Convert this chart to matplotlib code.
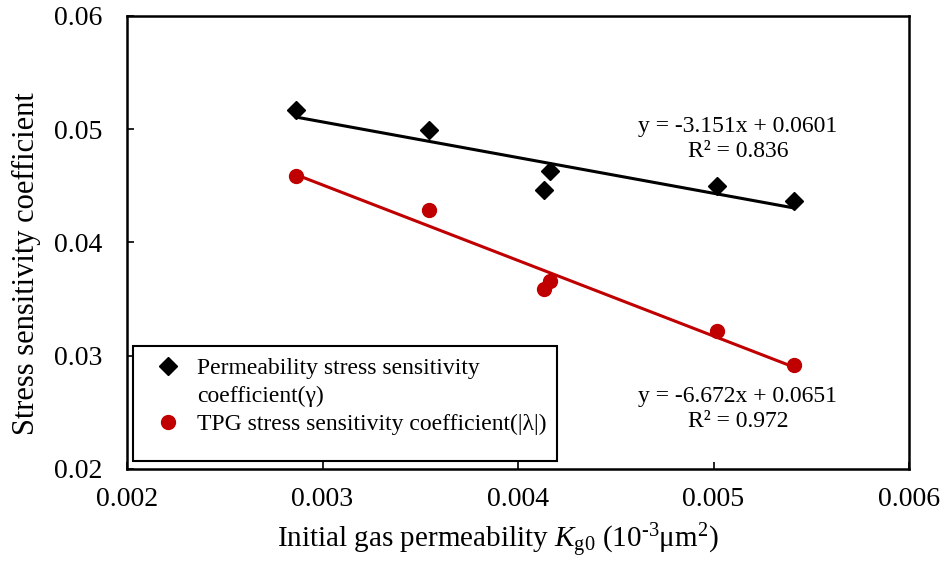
import matplotlib.pyplot as plt
from matplotlib.patches import Rectangle
from matplotlib.lines import Line2D
import numpy as np

plt.rcParams['font.family'] = 'Liberation Serif'
plt.rcParams['mathtext.fontset'] = 'custom'
plt.rcParams['mathtext.rm'] = 'Liberation Serif'
plt.rcParams['mathtext.it'] = 'Liberation Serif:italic'

# initial gas permeability (10^-3 um^2)
kg0 = [0.002864, 0.003545, 0.004164, 0.004135, 0.005016, 0.005413]
# permeability stress sensitivity coefficient (gamma)
gamma = [0.0517, 0.04993, 0.04634, 0.04464, 0.04502, 0.04366]
# TPG stress sensitivity coefficient (|lambda|)
lam = [0.04587, 0.04287, 0.0366, 0.03587, 0.03219, 0.02918]

# linear trendlines: slope, intercept, R^2
fit_gamma = (-3.151, 0.0601, 0.836)
fit_lam = (-6.672, 0.0651, 0.972)

red = '#C00000'

fig = plt.figure(figsize=(9.47, 5.63), dpi=100)
ax = fig.add_axes([0.1341, 0.167, 0.8258, 0.8046])

xs = np.array([min(kg0), max(kg0)])
ax.plot(xs, fit_gamma[0] * xs + fit_gamma[1], color='black', lw=2.2, zorder=2)
ax.plot(xs, fit_lam[0] * xs + fit_lam[1], color=red, lw=2.2, zorder=2)

h1, = ax.plot(kg0, gamma, 'D', color='black', ms=9, ls='none', zorder=3)
h2, = ax.plot(kg0, lam, 'o', color=red, ms=10, ls='none', zorder=3)

ax.text(0.005125, 0.04914,
        f'y = {fit_gamma[0]:.3f}x + {fit_gamma[1]:.4f}\nR² = {fit_gamma[2]:.3f}',
        ha='center', va='center', fontsize=17, linespacing=1.25)
ax.text(0.005125, 0.0253,
        f'y = {fit_lam[0]:.3f}x + {fit_lam[1]:.4f}\nR² = {fit_lam[2]:.3f}',
        ha='center', va='center', fontsize=17, linespacing=1.25)

ax.set_xlim(0.002, 0.006)
ax.set_ylim(0.02, 0.06)
ax.set_xticks([0.002, 0.003, 0.004, 0.005, 0.006])
ax.set_yticks([0.02, 0.03, 0.04, 0.05, 0.06])
ax.set_xticklabels(['0.002', '0.003', '0.004', '0.005', '0.006'])
ax.set_yticklabels(['0.02', '0.03', '0.04', '0.05', '0.06'])
ax.tick_params(direction='in', length=5, width=1.2, labelsize=20)
ax.tick_params(axis='x', pad=13)
ax.tick_params(axis='y', pad=18)
for s in ax.spines.values():
    s.set_linewidth(1.8)

ax.set_xlabel(r'Initial gas permeability $K_{\rm g0}$ (10$^{\text{-3}}$μm$^{2}$)',
              fontsize=21)
ax.xaxis.set_label_coords(0.474, -0.117)
ax.set_ylabel('Stress sensitivity coefficient', fontsize=22)
ax.yaxis.set_label_coords(-0.11, 0.4525)

# legend box placed in figure pixels
W, H = 947, 563
ax.add_patch(Rectangle((133 / W, (H - 461) / H), 424 / W, 115 / H,
                       transform=fig.transFigure, clip_on=False,
                       facecolor='white', edgecolor='black', lw=1.5, zorder=5))
blank = Line2D([], [], linestyle='none')
leg = ax.legend([h1, blank, h2],
                ['Permeability stress sensitivity', 'coefficient(γ)',
                 'TPG stress sensitivity coefficient(|λ|)'],
                loc='upper left', bbox_to_anchor=(129 / W, (H - 336) / H),
                bbox_transform=fig.transFigure, frameon=False, fontsize=17,
                handletextpad=0.5, handlelength=1.5, labelspacing=0.28)
leg.set_zorder(6)

fig.savefig('out.png', dpi=100)
